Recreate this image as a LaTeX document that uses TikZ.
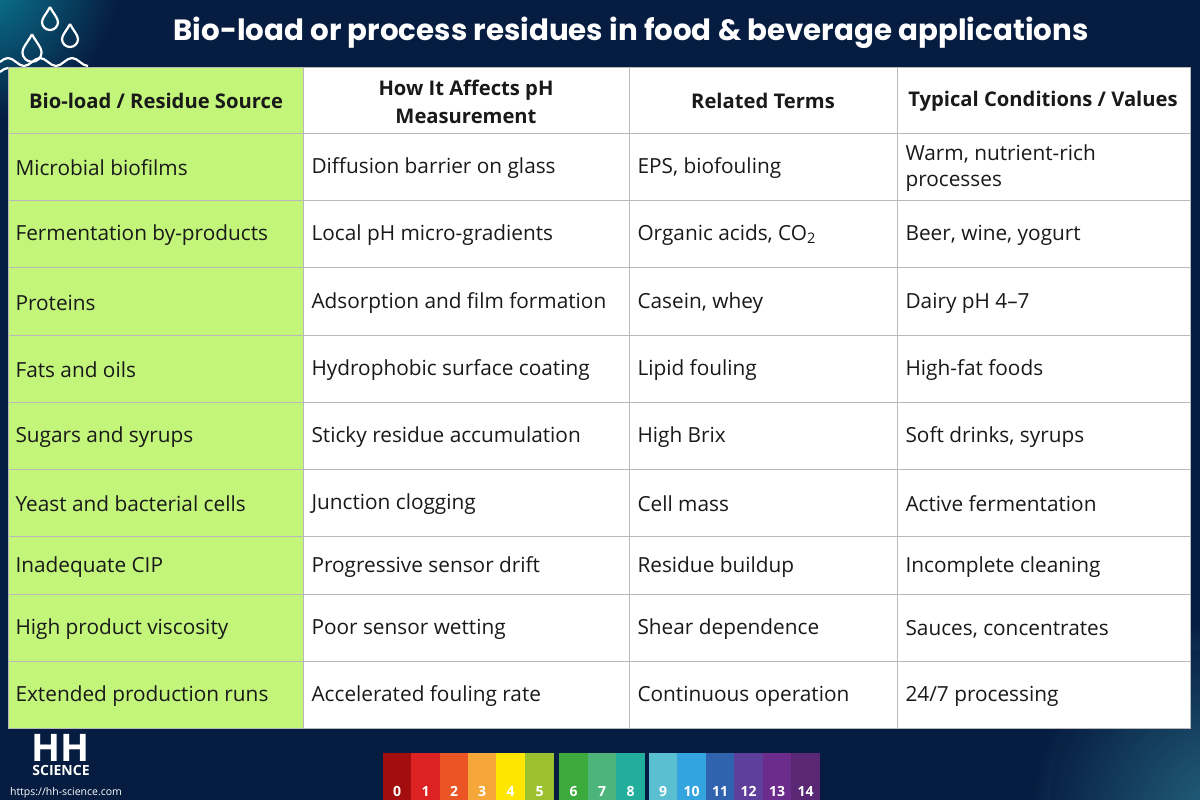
\documentclass[tikz,border=0pt]{standalone}
\usepackage{fontspec}
\setmainfont{Open Sans}
\newfontfamily\titlefont{Poppins}
\definecolor{navy}{HTML}{061C40}
\definecolor{lime}{HTML}{C2F57A}
\definecolor{teal1}{HTML}{0B7F98}
\definecolor{gridc}{HTML}{B8B8B8}
\tikzset{x=1pt,y=-1pt,
 cell/.style={anchor=west,font=\fontsize{20.8}{26}\selectfont,text=black!90,align=left},
 hcell/.style={anchor=center,font=\fontsize{20.2}{28}\selectfont\bfseries,text=black!90,align=center},
 num/.style={anchor=south,font=\fontsize{14}{14}\selectfont\bfseries,text=white}}
\begin{document}
\begin{tikzpicture}
\useasboundingbox (0,0) rectangle (1200,800);
\fill[navy] (0,0) rectangle (1200,800);
\begin{scope}
\clip (0,0) rectangle (1200,800);
\shade[inner color=teal1,outer color=navy] (-20,-20) circle (140);
\shade[inner color=teal1!80,outer color=navy] (1230,820) circle (200);
\fill[navy,opacity=0.4] (1200,800) circle (150);
\end{scope}
% drops logo
\begin{scope}[white,line width=2.2pt]
\foreach \cx/\cy/\s in {50/16/1,70/33/1,32/45/1.2}{
 \draw (\cx,\cy-9*\s) .. controls (\cx+3*\s,\cy-3*\s) and (\cx+8*\s,\cy+2*\s) .. (\cx+8*\s,\cy+6*\s) arc (0:180:8*\s) .. controls (\cx-8*\s,\cy+2*\s) and (\cx-3*\s,\cy-3*\s) .. (\cx,\cy-9*\s);}
\foreach \y in {62,72}{\draw (0,\y) sin (8,\y-4) cos (16,\y) sin (24,\y+4) cos (32,\y) sin (40,\y-4) cos (48,\y) sin (56,\y+4) cos (64,\y) sin (72,\y-4) cos (80,\y) sin (88,\y+4);}
\end{scope}
\node[font=\titlefont\fontsize{29.3}{32}\selectfont\bfseries,text=white] (title) at (631,33) {Bio-load or process residues in food \& beverage applications};
% table
\fill[white] (8,67) rectangle (1190,728);
\fill[lime] (8,67) rectangle (303,728);
\foreach \y in {133,200,267,335,402,469,536,594,661}{\draw[gridc,line width=0.8pt] (8,\y) -- (1190,\y);}
\foreach \x in {303,629,897}{\draw[gridc,line width=0.8pt] (\x,67) -- (\x,728);}
\draw[gridc,line width=0.8pt] (8,67) rectangle (1190,728);
\node[hcell] (h1) at (156,101) {Bio-load / Residue Source};
\node[hcell] (h2) at (466,102) {How It Affects pH\\Measurement};
\node[hcell] (h3) at (763,101) {Related Terms};
\node[hcell] (h4) at (1043,101) {Typical Conditions / Values};
\foreach \y/\a/\b/\c/\d [count=\i] in {
168/Microbial biofilms/Diffusion barrier on glass/{EPS, biofouling}/{Warm, nutrient-rich\\processes},
235/Fermentation by-products/Local pH micro-gradients/{Organic acids, CO\textsubscript{2}}/{Beer, wine, yogurt},
303/Proteins/Adsorption and film formation/{Casein, whey}/Dairy pH 4–7,
370/Fats and oils/Hydrophobic surface coating/Lipid fouling/High-fat foods,
437/Sugars and syrups/Sticky residue accumulation/High Brix/{Soft drinks, syrups},
504/Yeast and bacterial cells/Junction clogging/Cell mass/Active fermentation,
567/Inadequate CIP/Progressive sensor drift/Residue buildup/Incomplete cleaning,
629/High product viscosity/Poor sensor wetting/Shear dependence/{Sauces, concentrates},
696/Extended production runs/Accelerated fouling rate/Continuous operation/{24/7 processing}}{
 \node[cell] (a\i) at (12,\y) {\a};
 \node[cell] (b\i) at (308,\y) {\b};
 \node[cell] (c\i) at (634,\y) {\c};
 \node[cell] (d\i) at (902,\y) {\d};}
% HH logo
\node[font=\fontsize{38}{38}\selectfont\bfseries,text=white,inner sep=0,anchor=south] (hh) at (61,762) {HH};
\node[font=\fontsize{14}{14}\selectfont\bfseries,text=white,inner sep=0,anchor=north] (sci) at (61,765) {SCIENCE};
\node[font=\fontsize{10.5}{11}\selectfont,text=white,inner sep=0] (url) at (66,793) {https://hh-science.com};
% pH scale
\foreach \c/\xa/\xb/\n in {A30D0D/383/411/0,DC2222/411/440/1,EB5424/440/468/2,F5A73A/468/496/3,FFE600/496/525/4,9CC12E/525/554/5,
3DAA3D/559/588/6,4DB57A/588/616/7,22AE9C/616/645/8,
5ABFD0/649/677/9,34A4DF/677/706/10,2F63AE/706/734/11,5E3F9C/734/763/12,6C2C8C/763/791/13,5A2775/791/820/14}{
 \definecolor{phc}{HTML}{\c}
 \fill[phc] (\xa,753) rectangle (\xb,800);
 \node[num] (p\n) at ({(\xa+\xb)/2},800) {\n};}
\end{tikzpicture}
\end{document}
